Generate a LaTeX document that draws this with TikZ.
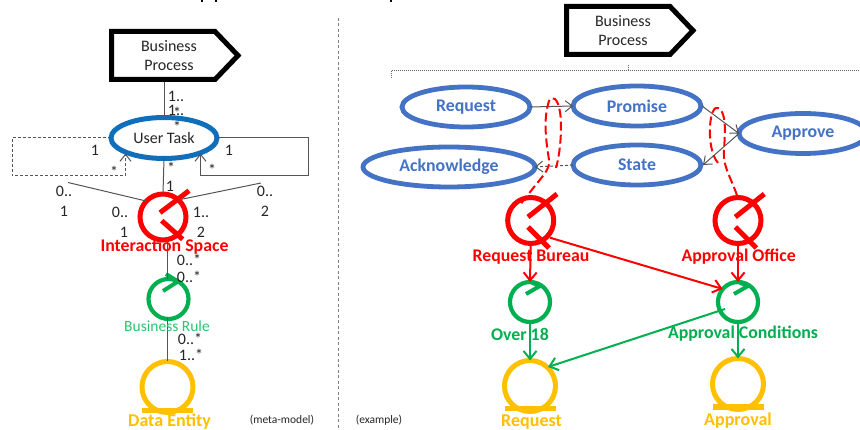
\documentclass[tikz,border=0pt]{standalone}
\usepackage{fontspec}
\setmainfont{Carlito}
\usetikzlibrary{arrows.meta,shapes.geometric}
\definecolor{tred}{HTML}{FF0000}
\definecolor{tgreen}{HTML}{00B050}
\definecolor{tlgreen}{HTML}{2BC46E}
\definecolor{tyellow}{HTML}{FFC000}
\definecolor{tblue}{HTML}{4472C4}
\definecolor{tuser}{HTML}{0F6FBA}
\definecolor{tline}{HTML}{555555}
\definecolor{ttext}{HTML}{262626}
\tikzset{
  x=1pt,y=-1pt,
  bpshape/.style={draw=black,line width=5pt,miter limit=10,fill=white},
  bptext/.style={font=\fontsize{16}{19}\selectfont,text=ttext,align=center,inner sep=0pt},
  usertask/.style={draw=tuser,line width=5pt,ellipse,inner sep=0pt,outer sep=0pt,minimum width=106pt,minimum height=41pt,font=\fontsize{16}{18}\selectfont,text=ttext},
  taskell/.style={draw=tblue,line width=4.8pt,ellipse,inner sep=0pt,outer sep=0pt,minimum height=40pt,font=\fontsize{17.8}{20}\bfseries\selectfont,text=tblue},
  redring/.style={draw=tred,line width=5pt,circle,inner sep=0pt,outer sep=0pt,minimum size=46pt},
  greenring/.style={draw=tgreen,line width=4.2pt,circle,inner sep=0pt,outer sep=0pt,minimum size=40pt},
  yellowring/.style={draw=tyellow,line width=5pt,circle,inner sep=0pt,outer sep=0pt,minimum size=51pt},
  redstick/.style={draw=tred,line width=5pt},
  greenstick/.style={draw=tgreen,line width=4pt,line join=miter},
  yellowbar/.style={fill=tyellow,draw=none},
  assoc/.style={draw=tline,line width=1pt},
  openarr/.style={draw=tline,line width=1pt,-{Straight Barb[length=7pt,width=11pt,line width=1pt]}},
  dashedarr/.style={openarr,dash pattern=on 3pt off 2pt},
  mult/.style={font=\fontsize{16}{16}\selectfont,text=ttext,inner sep=0pt},
  redlab/.style={font=\fontsize{17.8}{20}\bfseries\selectfont,text=tred,inner sep=0pt},
  greenlab/.style={font=\fontsize{17.8}{20}\bfseries\selectfont,text=tgreen,inner sep=0pt},
  yellowlab/.style={font=\fontsize{18}{20}\bfseries\selectfont,text=tyellow,inner sep=0pt},
  rarr/.style={draw=tred,line width=2pt,-{Straight Barb[length=8pt,width=13pt,line width=2pt]}},
  garr/.style={draw=tgreen,line width=2pt,-{Straight Barb[length=8pt,width=13pt,line width=2pt]}},
  realize/.style={draw=tred,line width=2pt,dash pattern=on 9pt off 4pt},
  smalltxt/.style={font=\fontsize{11.5}{13}\selectfont,text=ttext,inner sep=0pt},
}
\begin{document}
\begin{tikzpicture}
\useasboundingbox (0,0) rectangle (860,430);
\fill[white] (0,0) rectangle (860,430);
% clipped title remnants
\fill[black] (201,0) rectangle (203,2);
\fill[black] (215,0) rectangle (217,2);
\fill[black] (390,0) rectangle (392,2);
% divider
\draw[draw=gray,line width=.8pt,dash pattern=on 3pt off 2.5pt] (338,18) -- (338,430);

% ---------- meta-model ----------
\draw[bpshape] (111.5,31.5) -- (215,31.5) -- (238,55.5) -- (215,79.5) -- (111.5,79.5) -- cycle;
\node[bptext] (bpa) at (169,56) {Business\\Process};
\coordinate (bpab) at (164.5,82);
\node[usertask] (ut) at (164,138) {User Task};
\draw[assoc] (bpab) -- (ut.north -| bpab);
\coordinate (dl1) at (12,138);
\coordinate (dl2) at (12,176);
\coordinate (dl3) at (125.5,176);
\coordinate (dl4) at (125.5,153.5);
\draw[dashedarr] (ut.west) -- (dl1) -- (dl2) -- (dl3) -- (dl4);
\coordinate (sl1) at (308,138);
\coordinate (sl2) at (308,176);
\coordinate (sl3) at (200.5,176);
\coordinate (sl4) at (200.5,153.5);
\draw[openarr] (ut.east) -- (sl1) -- (sl2) -- (sl3) -- (sl4);
\node[redring] (is) at (163,217) {};
\draw[redstick] (160,212.7) -- (189,190.7);
\draw[redstick] (161.7,220.7) -- (182.7,239.3);
\draw[assoc] (ut.south) -- (is.north);
\coordinate (fl) at (68,182.5);
\coordinate (fr) at (261,183);
\coordinate (isl) at (146,201);
\coordinate (isr) at (178,200);
\draw[assoc] (fl) -- (isl);
\draw[assoc] (fr) -- (isr);
\node[greenring] (br) at (168.5,299) {};
\draw[greenstick] (166,274) -- (178,281.5) -- (163,291);
\coordinate (isb) at (167,238);
\draw[assoc] (isb) -- (br.north -| isb);
\node[yellowring] (de) at (167.5,387) {};
\fill[yellowbar] (142,408) rectangle (193,413);
\coordinate (brb) at (167,318);
\draw[assoc] (brb) -- (de.north -| brb);

\node[mult] (m1) at (176,96) {1..};
\node[mult] (m2) at (176,110) {1..};
\node[mult] (m3) at (177,113) {*};
\node[mult] (m4) at (177,127) {*};
\node[mult] (m5) at (95,150) {1};
\node[mult] (m6) at (114,172) {*};
\node[mult] (m7) at (229,150) {1};
\node[mult] (m8) at (212,170) {*};
\node[mult] (m9) at (171,168) {*};
\node[mult] (m10) at (170,186) {1};
\node[mult] (m11) at (64,191) {0..};
\node[mult] (m12) at (64,211) {1};
\node[mult] (m13) at (120,212) {0..};
\node[mult] (m14) at (124,232) {1};
\node[mult] (m15) at (201,212) {1..};
\node[mult] (m16) at (201,232) {2};
\node[mult] (m17) at (265,191) {0..};
\node[mult] (m18) at (265,211) {2};
\node[mult] (m19) at (189,260) {0..*};
\node[mult] (m20) at (189,277) {0..*};
\node[mult] (m21) at (190,339) {0..*};
\node[mult] (m22) at (191,355) {1..*};
\node[redlab] (l1) at (164.5,247) {Interaction Space};
\node[inner sep=0pt,font=\fontsize{15.5}{18}\selectfont,text=tlgreen] (l2) at (167,326) {Business Rule};
\node[yellowlab] (l3) at (169.5,422) {Data Entity};
\node[smalltxt] (l4) at (282,420) {(meta-model)};
\node[smalltxt] (l5) at (379,420) {(example)};

% ---------- example ----------
\draw[bpshape] (566.5,6.5) -- (670,6.5) -- (693,30.5) -- (670,54.5) -- (566.5,54.5) -- cycle;
\node[bptext] (bpb) at (623,31) {Business\\Process};
\coordinate (b0) at (628.5,65);
\coordinate (b1) at (628.5,70.5);
\coordinate (b2) at (391,70.5);
\coordinate (b3) at (391,78);
\coordinate (b4) at (860,70.5);
\draw[draw=gray!80!black,line width=.8pt,dash pattern=on 1pt off 1pt] (b3) -- (b2) -- (b4);
\draw[draw=gray!80!black,line width=.8pt,dash pattern=on 1pt off 1pt] (b0) -- (b1);

\node[taskell,minimum width=128pt] (req) at (466,107) {Request};
\node[taskell,minimum width=128pt] (pro) at (637,106) {Promise};
\node[taskell,minimum width=128pt] (app) at (803,133.5) {Approve};
\node[taskell,minimum width=172pt] (ack) at (449,167) {Acknowledge};
\node[taskell,minimum width=128pt] (sta) at (637,165) {State};

\node[redring] (r1) at (530.7,220.5) {};
\draw[redstick] (528,217) -- (557,194);
\draw[redstick] (528,227) -- (549,248);
\node[redring] (r2) at (738,220.5) {};
\draw[redstick] (735.3,217) -- (764.3,194);
\draw[redstick] (735.3,227) -- (756.3,248);

\draw[openarr] (req.east) -- (pro.west);
\draw[openarr] (702,106) -- (app.west);
\draw[openarr] (app.west) -- (703,165);
\draw[dashedarr] (sta.west) -- (ack.east);

\draw[realize] (r1.north west) ++(7,-1) .. controls (540,178) and (551,170) .. (549,160)
  .. controls (546,140) and (543,120) .. (549,101)
  .. controls (552,95) and (558,98) .. (560,112)
  .. controls (562,125) and (561,150) .. (556,168);
\draw[realize] (r2.north) ++(-1,-2) .. controls (732,180) and (722,165) .. (724,150)
  .. controls (725,135) and (726,120) .. (722,112)
  .. controls (717,104) and (713,108) .. (711,118)
  .. controls (708,135) and (711,155) .. (718,163);

\node[greenring] (g1) at (530,302) {};
\draw[greenstick] (528,281) -- (540,286) -- (526,294);
\node[greenring] (g2) at (738,302) {};
\draw[greenstick] (736,281) -- (748,286) -- (734,294);
\node[yellowring] (y1) at (530,386) {};
\fill[yellowbar] (505,406) rectangle (556,411);
\node[yellowring] (y2) at (738,384) {};
\fill[yellowbar] (712.5,404) rectangle (763.5,410);

\draw[rarr] (r1.south) -- (g1.north);
\draw[rarr] (r2.south) -- (g2.north);
\coordinate (r1e) at (550,237.7);
\coordinate (g2w) at (722.7,289);
\draw[rarr] (r1e) -- (g2w);
\draw[garr] (g1.south) -- (y1.north);
\draw[garr] (g2.south) -- (y2.north);
\coordinate (g2s) at (725,309);
\coordinate (y1e) at (548,367);
\draw[garr] (g2s) -- (y1e);

\node[redlab] (t1) at (531,257) {Request Bureau};
\node[redlab] (t2) at (738.7,257) {Approval Office};
\node[greenlab] (t3) at (520,334) {Over 18};
\node[greenlab] (t4) at (743,334) {Approval Conditions};
\node[yellowlab] (t5) at (531.5,422.5) {Request};
\node[yellowlab] (t6) at (738,421) {Approval};
\end{tikzpicture}
\end{document}
